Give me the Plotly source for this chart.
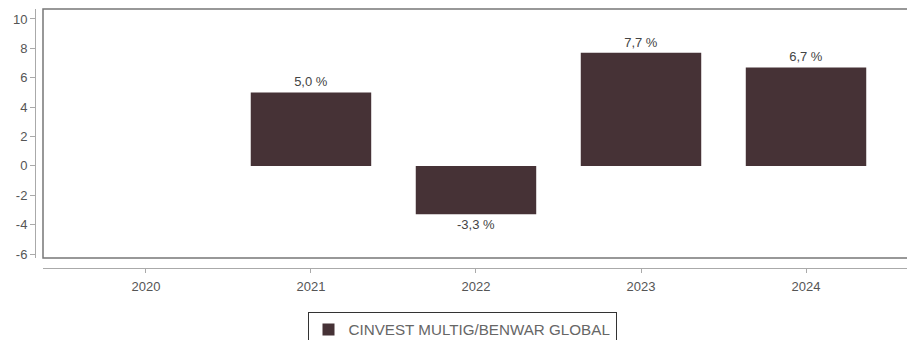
import plotly.graph_objects as go

years = ["2020", "2021", "2022", "2023", "2024"]
values = [None, 5.0, -3.3, 7.7, 6.7]
series_name = "CINVEST MULTIG/BENWAR GLOBAL"
y_ticks = [-6, -4, -2, 0, 2, 4, 6, 8, 10]
y_tick_labels = [str(v) for v in y_ticks]

labels = ["" if v is None else f"{v:.1f}".replace(".", ",") + " %" for v in values]

FONT = "Liberation Sans, Arial, sans-serif"

fig = go.Figure()
fig.add_trace(go.Bar(
    x=years, y=values, name=series_name,
    marker=dict(color="#463236", line=dict(width=0)),
    width=0.73,
    text=labels, textposition="outside", cliponaxis=False,
    textfont=dict(family=FONT, size=13, color="#444444"),
    showlegend=True,
))

W, H = 907, 340
ml, mr, mt, mb = 35, 0, 9, 72
pw = W - ml - mr
ph = H - mt - mb

fig.update_layout(
    width=W, height=H,
    margin=dict(l=ml, r=mr, t=mt, b=mb, pad=0, autoexpand=False),
    paper_bgcolor="white", plot_bgcolor="white",
    font=dict(family=FONT, size=13, color="#555555"),
    xaxis=dict(
        type="category", domain=[8 / pw, 1], range=[-0.624, 4.612],
        anchor="free", position=0, automargin=False,
        showline=True, linecolor="#aaaaaa", linewidth=1,
        ticks="outside", ticklen=4, tickcolor="#aaaaaa",
        showgrid=False, zeroline=False,
        tickfont=dict(family=FONT, size=13, color="#555555"),
        ticklabelstandoff=2,
    ),
    yaxis=dict(
        domain=[10 / ph, 1], range=[-6.27, 10.68],
        anchor="free", position=0, automargin=False,
        tickvals=y_ticks, ticktext=y_tick_labels,
        showline=True, linecolor="#aaaaaa", linewidth=1,
        ticks="outside", ticklen=5, tickcolor="#aaaaaa",
        showgrid=False, zeroline=False,
        tickfont=dict(family=FONT, size=13, color="#555555"),
    ),
    legend=dict(
        orientation="h", xref="container", yref="container",
        x=462 / W, xanchor="center",
        y=1 - 312 / H, yanchor="top",
        bordercolor="#333333", borderwidth=1, bgcolor="white",
        font=dict(family=FONT, size=15.2, color="#666666"),
    ),
    shapes=[dict(
        type="rect", xref="x domain", yref="y domain",
        x0=0, x1=1.05, y0=0, y1=1,
        line=dict(color="#777777", width=1.5), layer="above",
    )],
)

fig.write_html(
    "out.html",
    config={"displayModeBar": False},
    post_script="document.body.style.margin='0';document.body.style.overflow='hidden';"
                "document.documentElement.style.overflow='hidden';",
)
